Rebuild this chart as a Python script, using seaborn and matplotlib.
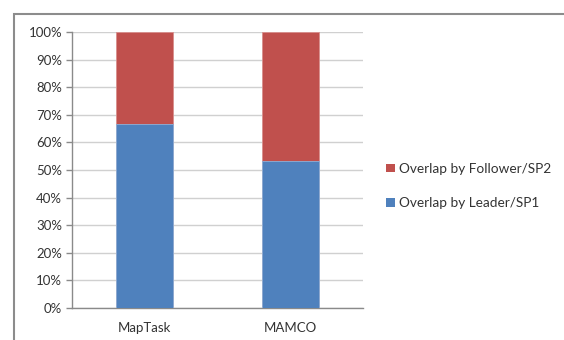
import matplotlib
matplotlib.use("Agg")
import matplotlib.pyplot as plt
from matplotlib.patches import Rectangle, Patch
import seaborn as sns
import pandas as pd

# Share of overlapping speech by speaker role
corpora = ["MapTask", "MAMCO"]
leader_share = [0.667, 0.533]
follower_share = [0.333, 0.467]
y_ticks = [0.0, 0.1, 0.2, 0.3, 0.4, 0.5, 0.6, 0.7, 0.8, 0.9, 1.0]
legend_labels = ["Overlap by Follower/SP2", "Overlap by Leader/SP1"]

blue = "#4F81BD"
red = "#C0504D"

sns.set_theme(style="white")
plt.rcParams["font.family"] = ["Lato", "DejaVu Sans"]

df = pd.DataFrame({
    "corpus": corpora,
    "leader": leader_share,
    "total": [l + f for l, f in zip(leader_share, follower_share)],
})

fig = plt.figure(figsize=(5.64, 3.40), dpi=100)
ax = fig.add_axes([72 / 564, 1 - 308 / 340, (363 - 72) / 564, (308 - 32) / 340])

# Stacked bars: full height in red, leader share drawn over it in blue
sns.barplot(data=df, x="corpus", y="total", color=red, width=0.39,
            saturation=1, ax=ax, edgecolor="#d98f8d", linewidth=0.6, zorder=3)
sns.barplot(data=df, x="corpus", y="leader", color=blue, width=0.39,
            saturation=1, ax=ax, edgecolor="#8fb0d8", linewidth=0.6, zorder=4)

ax.set_xlim(-0.5, 1.5)
ax.set_ylim(0, 1.0)
ax.set_yticks(y_ticks)
ax.set_yticklabels([f"{int(round(t * 100))}%" for t in y_ticks])
ax.set_xlabel("")
ax.set_ylabel("")

ax.yaxis.grid(True, color="#d0d0d0", linewidth=1.0, zorder=0)
ax.xaxis.grid(False)
ax.set_axisbelow(True)

for side in ["top", "right"]:
    ax.spines[side].set_visible(False)
for side in ["left", "bottom"]:
    ax.spines[side].set_color("#8a8a8a")
    ax.spines[side].set_linewidth(1.0)

ax.set_xticks([-0.5, 0.5, 1.5], minor=True)
ax.tick_params(axis="x", which="major", length=0, pad=10, labelsize=9.5, colors="#333333")
ax.tick_params(axis="x", which="minor", length=4, color="#8a8a8a", width=1.0, direction="out")
ax.tick_params(axis="y", which="major", length=4, color="#8a8a8a", width=1.0,
               direction="out", left=True, labelsize=9.5, colors="#333333", pad=3)

handles = [Patch(facecolor=red, edgecolor="none"), Patch(facecolor=blue, edgecolor="none")]
fig.legend(handles, legend_labels, loc="center left",
           bbox_to_anchor=(374 / 564, 1 - 186 / 340), frameon=False,
           fontsize=9.8, handlelength=0.62, handleheight=0.62, handletextpad=0.3,
           labelspacing=1.65, labelcolor="#333333")

# Outer chart frame
fig.patches.append(Rectangle((14 / 564, -0.1), 1.2, 1 - 14 / 340 + 0.1,
                             transform=fig.transFigure, fill=False,
                             edgecolor="#8c8c8c", linewidth=1.5))

fig.savefig("out.png", dpi=100)
